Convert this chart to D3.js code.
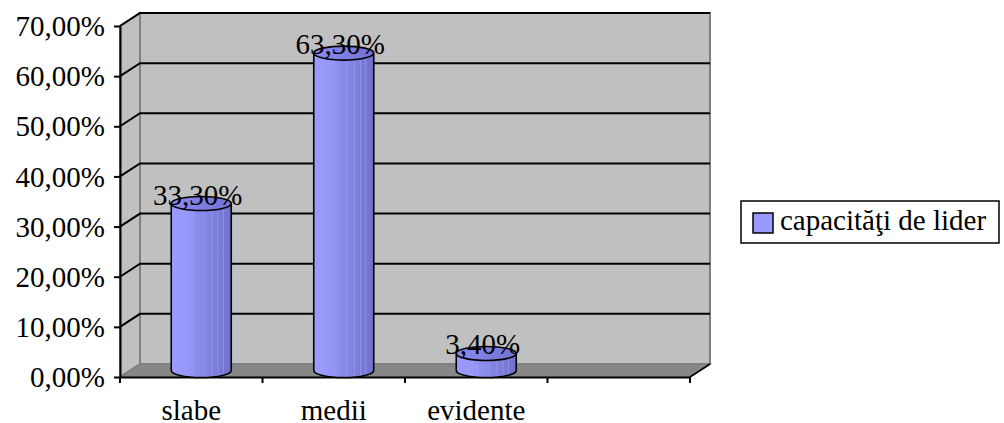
<!DOCTYPE html>
<html><head><meta charset="utf-8">
<script src="https://cdn.jsdelivr.net/npm/d3@7"></script>
<style>
html,body{margin:0;padding:0;background:#fff;}
svg{display:block;}
svg text{font-family:"Liberation Serif","Times New Roman",Tinos,"DejaVu Serif",serif !important;}
</style></head>
<body>
<svg id="chart" width="1004" height="423"></svg>
<script>
const categories = ["slabe", "medii", "evidente", ""];
const values = [33.3, 63.3, 3.4];
const yTicks = [0, 10, 20, 30, 40, 50, 60, 70];
const seriesName = "capacităţi de lider";

(function () {
const fmt = v => v.toFixed(2).replace(".", ",") + "%";

const svg = d3.select("#chart");
const pL = 120, pR = 690, pB = 377, pT = 26;
const dx = 20, dy = -13; // depth offset
const x = d3.scaleBand().domain(categories.map((c, i) => i)).range([pL, pR]).padding(0);
const y = d3.scaleLinear().domain([0, 70]).range([pB, pT]);

// back wall
svg.append("rect").attr("x", pL + dx).attr("y", pT + dy).attr("width", pR - pL).attr("height", pB - pT)
  .attr("fill", "#c0c0c0").attr("stroke", "#808080").attr("stroke-width", 2);
// side wall
svg.append("path").attr("d", `M${pL},${pB}L${pL},${pT}L${pL+dx},${pT+dy}L${pL+dx},${pB+dy}Z`)
  .attr("fill", "#c0c0c0").attr("stroke", "#808080").attr("stroke-width", 2);
// floor
svg.append("path").attr("d", `M${pL},${pB}L${pL+dx},${pB+dy}L${pR+dx},${pB+dy}L${pR},${pB}Z`)
  .attr("fill", "#878787").attr("stroke", "#808080").attr("stroke-width", 1.5);
svg.append("line").attr("x1", pR + dx).attr("y1", pB + dy).attr("x2", pR).attr("y2", pB)
  .attr("stroke", "#000").attr("stroke-width", 1.5);

// gridlines (skip 0)
const grid = svg.append("g");
yTicks.filter(t => t > 0).forEach(t => {
  grid.append("path")
    .attr("d", `M${pL},${y(t)}L${pL+dx},${y(t)+dy}L${pR+dx},${y(t)+dy}`)
    .attr("fill", "none").attr("stroke", "#000").attr("stroke-width", 2);
});

// Y axis
const yAxis = svg.append("g").attr("transform", `translate(${pL},0)`)
  .call(d3.axisLeft(y).tickValues(yTicks).tickFormat(fmt).tickSize(6).tickSizeOuter(0).tickPadding(9));
yAxis.select(".domain").attr("stroke", "#000").attr("stroke-width", 2);
yAxis.selectAll(".tick line").attr("stroke", "#000").attr("stroke-width", 2);
yAxis.selectAll(".tick text").attr("font-size", 29).attr("fill", "#000").attr("dy", "0.33em");

// X axis
const xAxis = svg.append("g").attr("transform", `translate(0,${pB})`)
  .call(d3.axisBottom(x).tickFormat(i => categories[i]).tickSize(0).tickPadding(22).tickSizeOuter(0));
xAxis.select(".domain").attr("stroke", "#000").attr("stroke-width", 2);
xAxis.selectAll(".tick text").attr("font-size", 29).attr("fill", "#000");
const bounds = d3.range(categories.length + 1).map(i => pL + i * x.step());
xAxis.selectAll("line.bt").data(bounds).join("line").attr("class", "bt")
  .attr("x1", d => d).attr("x2", d => d).attr("y1", 0).attr("y2", 6)
  .attr("stroke", "#000").attr("stroke-width", 2);

// gradient
const defs = svg.append("defs");
const g1 = defs.append("linearGradient").attr("id", "cyl").attr("x1", "0").attr("x2", "1").attr("y1", "0").attr("y2", "0");
[[0, "#9c9cff"], [0.25, "#9898fa"], [0.45, "#8c8cee"], [0.6, "#8484e4"], [0.8, "#7a7ad8"], [1, "#7070cc"]]
  .forEach(([o, c]) => g1.append("stop").attr("offset", o).attr("stop-color", c));
const g2 = defs.append("linearGradient").attr("id", "cyltop").attr("x1", "0").attr("x2", "1").attr("y1", "0").attr("y2", "0");
[[0, "#8a8af0"], [1, "#7272d4"]].forEach(([o, c]) => g2.append("stop").attr("offset", o).attr("stop-color", c));

// bars
const rx = 30, ry = 7;
const bars = svg.append("g");
values.forEach((v, i) => {
  const cx = x(i) + x.bandwidth() / 2 + dx / 2;
  const yb = pB + dy / 2;
  const yt = y(v) + dy / 2;
  const g = bars.append("g");
  g.append("path")
    .attr("d", `M${cx-rx},${yt}L${cx-rx},${yb}A${rx},${ry} 0 0 0 ${cx+rx},${yb}L${cx+rx},${yt}Z`)
    .attr("fill", "url(#cyl)");
  [0.35, 0.55, 0.68, 0.78, 0.87].forEach(f => {
    const sx = cx - rx + f * 2 * rx;
    g.append("line").attr("x1", sx).attr("x2", sx).attr("y1", yt).attr("y2", yb + ry * Math.sqrt(Math.max(0, 1 - Math.pow((sx - cx) / rx, 2))))
      .attr("stroke", "#a4a4f4").attr("stroke-width", 0.8).attr("opacity", 0.7);
  });
  g.append("path")
    .attr("d", `M${cx-rx},${yt}L${cx-rx},${yb}A${rx},${ry} 0 0 0 ${cx+rx},${yb}L${cx+rx},${yt}`)
    .attr("fill", "none").attr("stroke", "#000").attr("stroke-width", 1.6);
  g.append("ellipse").attr("cx", cx).attr("cy", yt).attr("rx", rx).attr("ry", ry)
    .attr("fill", "url(#cyltop)").attr("stroke", "#000").attr("stroke-width", 1.6);
  svg.append("text").attr("x", cx - 3.5).attr("y", yt + 1).attr("text-anchor", "middle")
    .attr("font-size", 29).attr("fill", "#000").text(fmt(v));
});

// legend
const lg = svg.append("g");
lg.append("rect").attr("x", 741).attr("y", 201).attr("width", 258).attr("height", 42)
  .attr("fill", "#fff").attr("stroke", "#000").attr("stroke-width", 1.5);
lg.append("rect").attr("x", 753).attr("y", 213).attr("width", 20).attr("height", 20)
  .attr("fill", "#9999ff").attr("stroke", "#000").attr("stroke-width", 1.5);
lg.append("text").attr("x", 780).attr("y", 230).attr("font-size", 29).attr("fill", "#000").text(seriesName);
})();
</script>
</body></html>
